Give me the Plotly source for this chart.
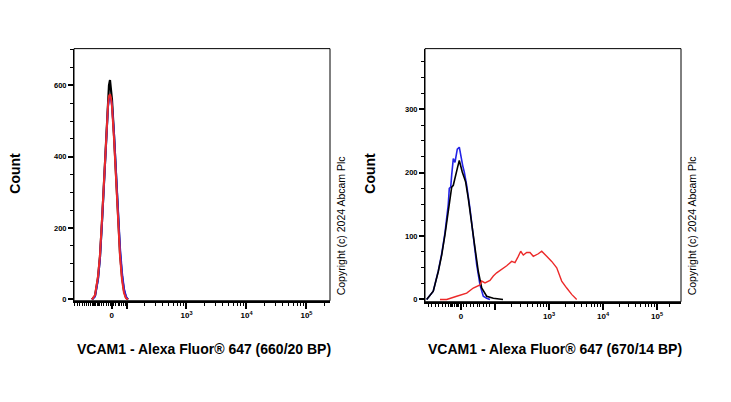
import plotly.graph_objects as go
import numpy as np

W, H = 731, 402

# ---------------- data (x in logicle display units, 10^k -> k) ----------------
# Left panel (660/20 BP)
L_x = [1.425, 1.475, 1.525, 1.558, 1.592, 1.625, 1.658, 1.692, 1.708, 1.725,
       1.742, 1.758, 1.792, 1.825, 1.858, 1.892, 1.925, 1.958, 1.992, 2.025]
L_black = [0, 10, 60, 120, 220, 340, 460, 560, 600, 615,
           590, 560, 460, 340, 230, 130, 65, 25, 5, 0]
L_blue = [0, 8, 55, 115, 215, 335, 450, 540, 560, 565,
          560, 545, 465, 355, 245, 145, 75, 30, 8, 0]
L_red = [0, 12, 65, 125, 225, 345, 455, 545, 570, 575,
         565, 540, 450, 330, 220, 120, 55, 18, 3, 0]

# Right panel (670/14 BP)
R_black_x = [0.735, 0.857, 0.950, 1.013, 1.074, 1.135, 1.167, 1.198, 1.228, 1.278,
             1.309, 1.339, 1.365, 1.394, 1.426, 1.457, 1.506, 1.569, 1.630, 1.691,
             1.754, 1.846, 1.969, 2.148]
R_black_y = [0, 13, 44, 70, 102, 138, 159, 177, 180, 201,
             209, 219, 209, 201, 193, 185, 159, 123, 81, 44,
             18, 5, 2, 0]
R_blue_x = [0.735, 0.857, 0.950, 1.013, 1.074, 1.135, 1.154, 1.180, 1.198, 1.228,
            1.259, 1.302, 1.339, 1.365, 1.402, 1.431, 1.476, 1.537, 1.598, 1.661,
            1.722, 1.783, 1.846, 1.907]
R_blue_y = [0, 13, 45, 72, 105, 150, 175, 177, 196, 222,
            216, 237, 240, 227, 211, 201, 180, 143, 97, 55,
            23, 5, 2, 0]
R_red_x = [0.981, 1.106, 1.291, 1.476, 1.598, 1.722, 1.754, 1.815, 1.907, 1.969,
           2.031, 2.124, 2.217, 2.309, 2.370, 2.431, 2.476, 2.524, 2.587, 2.648,
           2.709, 2.802, 2.865, 2.957, 3.050, 3.143, 3.235, 3.328, 3.420, 3.513]
R_red_y = [0, 0, 5, 10, 18, 23, 29, 26, 30, 37,
           42, 47, 53, 60, 58, 68, 76, 70, 74, 74,
           68, 72, 76, 68, 60, 50, 29, 18, 8, 0]

# tick labels
L_xtick_vals = [1.753, 2, 3, 4, 5]
R_xtick_vals = [1.37, 2, 3, 4, 5]
xtick_text = ["<b>0</b>", "", "<b>10<sup>3</sup></b>", "<b>10<sup>4</sup></b>", "<b>10<sup>5</sup></b>"]
L_ytick_vals = [0, 200, 400, 600]
R_ytick_vals = [0, 100, 200, 300]

x_title_L = "VCAM1 - Alexa Fluor® 647 (660/20 BP)"
x_title_R = "VCAM1 - Alexa Fluor® 647 (670/14 BP)"
y_title = "Count"
copyright = "Copyright (c) 2024 Abcam Plc"

# ---------------- axis decoration ----------------
def log_minor(decades, extra=()):
    out = []
    for k in decades:
        for m in range(2, 10):
            out.append(float(k + np.log10(m)))
    out.extend(extra)
    return out

L_minor = [1.13, 1.18, 1.22, 1.26, 1.30, 1.34, 1.37, 1.40, 1.43, 1.45, 1.47, 1.49, 1.51, 1.53, 1.55,
           1.58, 1.62, 1.66, 1.70, 1.74, 1.78, 1.82, 1.86, 1.89, 1.92, 1.95, 1.98] + log_minor([2, 3, 4], [5.301])
R_minor = [0.76, 0.83, 0.89, 0.96, 1.02, 1.08, 1.13, 1.17, 1.20, 1.22, 1.25, 1.28, 1.31,
           1.33, 1.36, 1.42, 1.48, 1.54, 1.61, 1.67, 1.72, 1.79, 1.84, 1.90] + log_minor([2, 3, 4], [5.24])

FONT = "Liberation Sans, Arial, sans-serif"
BLACK = "#000000"
BLUE = "#2323e6"
RED = "#ec2a2a"

fig = go.Figure()

fig.add_trace(go.Scatter(x=L_x, y=L_black, mode="lines", line=dict(color=BLACK, width=2.2),
                         xaxis="x", yaxis="y", showlegend=False))
fig.add_trace(go.Scatter(x=L_x, y=L_blue, mode="lines", line=dict(color=BLUE, width=2),
                         xaxis="x", yaxis="y", showlegend=False))
fig.add_trace(go.Scatter(x=L_x, y=L_red, mode="lines", line=dict(color=RED, width=2),
                         xaxis="x", yaxis="y", showlegend=False))
fig.add_trace(go.Scatter(x=R_blue_x, y=R_blue_y, mode="lines", line=dict(color=BLUE, width=1.6),
                         xaxis="x2", yaxis="y2", showlegend=False))
fig.add_trace(go.Scatter(x=R_black_x, y=R_black_y, mode="lines", line=dict(color=BLACK, width=1.6),
                         xaxis="x2", yaxis="y2", showlegend=False))
fig.add_trace(go.Scatter(x=R_red_x, y=R_red_y, mode="lines", line=dict(color=RED, width=1.4),
                         xaxis="x2", yaxis="y2", showlegend=False))

tickfont = dict(family=FONT, size=8, color=BLACK)

xdL = [74 / W, 330 / W]
xdR = [425 / W, 681 / W]
ydL = [1 - 303 / H, 1 - 49 / H]
ydR = [1 - 304 / H, 1 - 49 / H]
L_rng = [1.125, 5.392]
R_rng = [0.704, 5.444]

def xaxis(domain, rng, vals, minor, anchor):
    return dict(domain=domain, range=rng, anchor=anchor, tickmode="array", tickvals=vals,
                ticktext=xtick_text, ticks="outside", ticklen=6, tickwidth=1.5, tickcolor=BLACK,
                showline=True, linewidth=2, linecolor=BLACK, showgrid=False, zeroline=False,
                tickfont=tickfont,
                minor=dict(tickmode="array", tickvals=minor, ticks="outside", ticklen=3,
                           tickwidth=1, tickcolor=BLACK, showgrid=False))

def yaxis(domain, rng, vals, dminor, anchor):
    return dict(domain=domain, range=rng, anchor=anchor, tickmode="array", tickvals=vals,
                ticktext=[f"<b>{v}</b>" for v in vals],
                ticks="outside", ticklen=5, tickwidth=1.5, tickcolor=BLACK,
                showline=True, linewidth=1, linecolor=BLACK, showgrid=False, zeroline=False,
                tickfont=dict(family=FONT, size=7.5, color=BLACK),
                minor=dict(dtick=dminor, ticks="outside", ticklen=3, tickwidth=1,
                           tickcolor=BLACK, showgrid=False))

fig.update_layout(
    width=W, height=H, margin=dict(l=0, r=0, t=0, b=0),
    paper_bgcolor="white", plot_bgcolor="white",
    xaxis=xaxis(xdL, L_rng, L_xtick_vals, L_minor, "y"),
    yaxis=yaxis(ydL, [-3.6, 702.9], L_ytick_vals, 50, "x"),
    xaxis2=xaxis(xdR, R_rng, R_xtick_vals, R_minor, "y2"),
    yaxis2=yaxis(ydR, [-3.6, 395.4], R_ytick_vals, 25, "x2"),
)

for xr, yr in (("x domain", "y domain"), ("x2 domain", "y2 domain")):
    fig.add_shape(type="rect", xref=xr, yref=yr, x0=0, x1=1, y0=0, y1=1,
                  line=dict(color=BLACK, width=1), fillcolor="rgba(0,0,0,0)", layer="above")

def ann(text, x, y, size, bold=False, angle=0):
    fig.add_annotation(text=f"<b>{text}</b>" if bold else text, x=x / W, y=1 - y / H,
                       xref="paper", yref="paper", showarrow=False, textangle=angle,
                       font=dict(family=FONT, size=size, color=BLACK),
                       xanchor="center", yanchor="middle")

ann(y_title, 15, 175, 14, bold=True, angle=-90)
ann(y_title, 370, 175, 14, bold=True, angle=-90)
ann(x_title_L, 204, 352, 14, bold=True)
ann(x_title_R, 555, 352, 14, bold=True)
ann(copyright, 341, 228, 10.5, angle=-90)
ann(copyright, 692, 228, 10.5, angle=-90)

fig.write_html("out.html")
